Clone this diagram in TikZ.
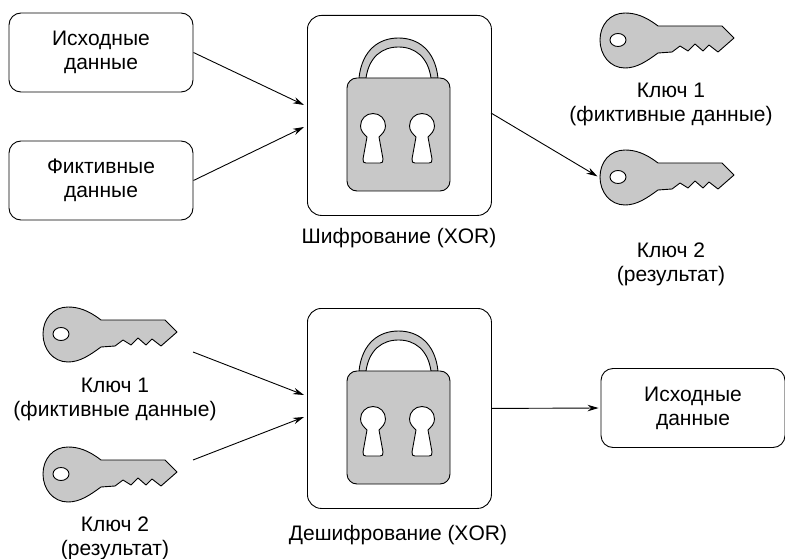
\documentclass[tikz,border=0pt]{standalone}
\usepackage{fontspec}
\setmainfont{Liberation Sans}
\usetikzlibrary{arrows.meta}

\definecolor{partgray}{HTML}{C8C8C8}

\tikzset{
  label text/.style={align=center, inner sep=0pt, font=\fontsize{21}{24}\selectfont},
  data box/.style={label text, draw, rounded corners=12pt, minimum width=184pt, minimum height=79pt},
  lock frame/.style={draw, rounded corners=14pt, minimum width=184pt, minimum height=200pt, anchor=north west},
  key frame/.style={inner sep=0pt, minimum width=134pt, minimum height=55pt, anchor=north west},
  part/.style={draw, fill=partgray, line join=round},
  conn/.style={-{Stealth[length=11pt,width=6.5pt]}},
  keyshape/.pic={
    \node[key frame] (-frame) at (0,0) {};
    \draw[part] (58,13) .. controls (45,3) and (35,0) .. (25,0)
      .. controls (10,0) and (0,12) .. (0,27) .. controls (0,42) and (10,55) .. (25,55)
      .. controls (37,55) and (47,48) .. (58,40) -- (72,39) -- (80,33) -- (88,38) -- (95,31)
      -- (103,38) -- (109,32) -- (118,39) -- (134,25) -- (122,13) -- cycle;
    \draw[fill=white] (18,27) ellipse (8pt and 6.5pt);
  },
  lockshape/.pic={
    \node[lock frame] (-frame) at (0,0) {};
    % shackle first, the body covers its feet
    \draw[part] (52,63) .. controls (55,35) and (72,23) .. (91.5,23)
      .. controls (111,23) and (128,35) .. (131,63) -- (124,63)
      .. controls (121,42) and (108,32) .. (91.5,32)
      .. controls (75,32) and (62,42) .. (59,63) -- cycle;
    \draw[part, rounded corners=10pt] (40,63) rectangle (143,176);
    % two keyholes
    \foreach \holex in {66,115} {
      \draw[fill=white, shift={(\holex,111)}] (-6,11) .. controls (-9,8) and (-12.5,5) .. (-12.5,0)
        .. controls (-12.5,-7) and (-7,-12.5) .. (0,-12.5)
        .. controls (7,-12.5) and (12.5,-7) .. (12.5,0)
        .. controls (12.5,5) and (9,8) .. (6,11) -- (10,33)
        .. controls (10.5,36) and (9,37) .. (7,37) -- (-7,37)
        .. controls (-9,37) and (-10.5,36) .. (-10,33) -- cycle;
    }
  },
}

\begin{document}
\begin{tikzpicture}[x=1pt, y=-1pt, line width=0.9pt]
\useasboundingbox (0,0) rectangle (785,559);

% Encryption, top half
\node[data box] (sourceA) at (101,52.5) {Исходные\\данные};
\node[data box] (dummyA) at (101,180.5) {Фиктивные\\данные};
\pic (lockA) at (307,15) {lockshape};
\node[label text] (lockAtext) at (399,238) {Шифрование (XOR)};
\pic (keyA) at (600,13) {keyshape};
\node[label text] (keyAtext) at (671,104) {Ключ 1\\(фиктивные данные)};
\pic (keyB) at (600,150) {keyshape};
\node[label text] (keyBtext) at (671,264) {Ключ 2\\(результат)};

\coordinate (inA) at (304,105);
\coordinate (inB) at (304,127);
\coordinate (outA) at (491,113);
\draw[conn] (sourceA.east) -- (inA);
\draw[conn] (dummyA.east) -- (inB);
\draw[conn, shorten >=3pt] (outA) -- (keyB-frame.west);

% Decryption, bottom half
\pic (keyC) at (43,307) {keyshape};
\node[label text] (keyCtext) at (115,399) {Ключ 1\\(фиктивные данные)};
\pic (keyD) at (43,447) {keyshape};
\node[label text] (keyDtext) at (115,538) {Ключ 2\\(результат)};
\pic (lockB) at (307,308) {lockshape};
\node[label text] (lockBtext) at (398,535) {Дешифрование (XOR)};
\node[data box] (sourceB) at (693,408) {Исходные\\данные};

\coordinate (fromC) at (193,352);
\coordinate (fromD) at (193,460);
\coordinate (inC) at (304,395);
\coordinate (inD) at (304,417);
\draw[conn] (fromC) -- (inC);
\draw[conn] (fromD) -- (inD);
\draw[conn, shorten >=2pt] (lockB-frame.east) -- (sourceB.west);

\end{tikzpicture}
\end{document}
